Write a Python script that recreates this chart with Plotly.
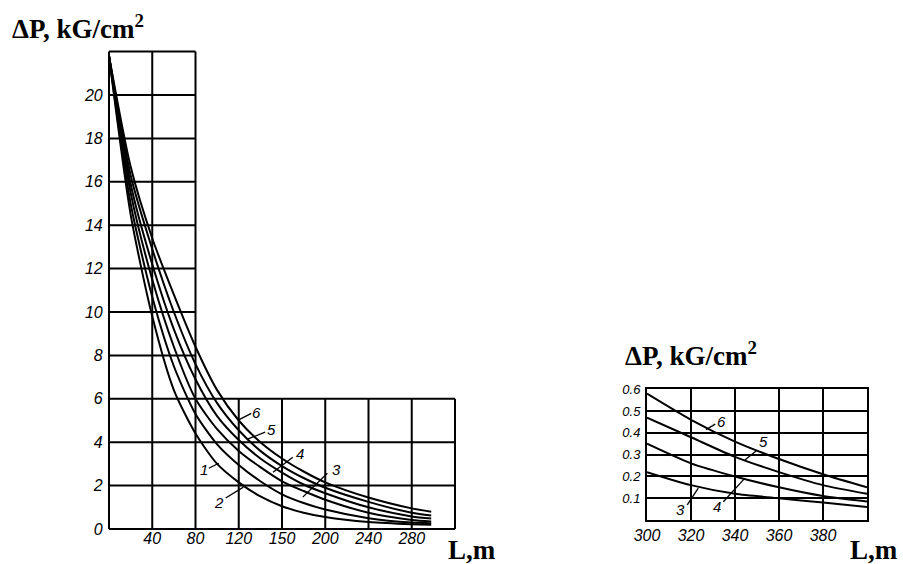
import plotly.graph_objects as go

# ---------------- data ----------------
L_main = [0, 20, 40, 60, 80, 100, 120, 140, 160, 180, 200, 240, 280, 298]
dp_curve1 = [21.8, 14.5, 9.8, 6.4, 4.4, 3.0, 2.15, 1.5, 1.05, 0.75, 0.55, 0.32, 0.22, 0.20]
dp_curve2 = [21.8, 15.0, 10.7, 7.5, 5.3, 3.9, 2.95, 2.2, 1.6, 1.2, 0.9, 0.5, 0.30, 0.27]
dp_curve3 = [21.8, 15.5, 11.5, 8.4, 6.0, 4.6, 3.6, 2.85, 2.2, 1.75, 1.35, 0.75, 0.42, 0.35]
dp_curve4 = [21.8, 15.9, 12.2, 9.2, 6.9, 5.2, 4.1, 3.25, 2.6, 2.05, 1.65, 1.0, 0.58, 0.48]
dp_curve5 = [21.8, 16.3, 12.9, 10.0, 7.6, 5.8, 4.55, 3.6, 2.9, 2.35, 1.9, 1.25, 0.75, 0.62]
dp_curve6 = [21.8, 16.7, 13.4, 10.8, 8.4, 6.4, 5.0, 4.0, 3.25, 2.65, 2.15, 1.45, 0.95, 0.80]
main_curves = [dp_curve1, dp_curve2, dp_curve3, dp_curve4, dp_curve5, dp_curve6]

L_inset = [300, 320, 340, 360, 380, 400]
ins_curve3 = [0.22, 0.16, 0.12, 0.10, 0.08, 0.06]
ins_curve4 = [0.35, 0.26, 0.20, 0.15, 0.11, 0.085]
ins_curve5 = [0.47, 0.38, 0.29, 0.22, 0.16, 0.12]
ins_curve6 = [0.58, 0.46, 0.36, 0.28, 0.21, 0.15]
inset_curves = [ins_curve3, ins_curve4, ins_curve5, ins_curve6]

# tick labels
main_x_tickvals = [40, 80, 120, 160, 200, 240, 280]
main_x_ticktext = ["40", "80", "120", "150", "200", "240", "280"]
main_y_tickvals = [0, 2, 4, 6, 8, 10, 12, 14, 16, 18, 20]
inset_x_tickvals = [300, 320, 340, 360, 380]
inset_y_tickvals = [0.1, 0.2, 0.3, 0.4, 0.5, 0.6]

# grid layout of the main chart (upper part only two columns wide)
grid_x_full = [0, 40, 80]
grid_x_low = [120, 160, 200, 240, 280, 320]
grid_y_low = [0, 2, 4, 6]
grid_y_high = [8, 10, 12, 14, 16, 18, 20, 22]
grid_x_max = 320
grid_x_narrow = 80
grid_y_max = 22
grid_y_low_max = 6

# curve labels in main chart
main_lab_text = ["1", "2", "3", "4", "5", "6"]
main_lab_x = [87.7, 101.5, 210.2, 176.4, 149.9, 136.2]
main_lab_y = [2.76, 1.24, 2.76, 3.49, 4.6, 5.39]
main_lead_x0 = [92.3, 107.9, 179.2, 151.7, 128.0, 120.4]
main_lead_y0 = [2.8, 1.43, 1.47, 2.62, 4.14, 5.04]
main_lead_x1 = [101.5, 124.3, 202.0, 170.0, 144.4, 131.6]
main_lead_y1 = [3.03, 1.93, 2.57, 3.31, 4.46, 5.33]

ins_lab_text = ["3", "4", "5", "6"]
ins_lab_x = [315.0, 331.7, 352.9, 334.0]
ins_lab_y = [0.046, 0.061, 0.361, 0.453]
ins_lead_x0 = [318.3, 334.7, 344.5, 326.8]
ins_lead_y0 = [0.069, 0.084, 0.275, 0.415]
ins_lead_x1 = [323.3, 344.5, 350.0, 331.0]
ins_lead_y1 = [0.146, 0.192, 0.32, 0.44]

W, H = 903, 564
BLACK = "black"
TICKFONT = dict(family="Liberation Sans", size=16, color=BLACK, style="italic")
LABFONT = dict(family="Liberation Sans", size=15, color=BLACK, style="italic")

fig = go.Figure()

for c in main_curves:
    fig.add_trace(go.Scatter(x=L_main, y=c, mode="lines", xaxis="x", yaxis="y",
                             line=dict(color=BLACK, width=2, shape="spline", smoothing=0.7),
                             showlegend=False, hoverinfo="skip"))
for c in inset_curves:
    fig.add_trace(go.Scatter(x=L_inset, y=c, mode="lines", xaxis="x2", yaxis="y2",
                             line=dict(color=BLACK, width=2, shape="spline", smoothing=0.7),
                             showlegend=False, hoverinfo="skip"))

shapes = []
for gx in grid_x_full:
    shapes.append(dict(type="line", xref="x", yref="y", x0=gx, x1=gx, y0=0, y1=grid_y_max,
                       line=dict(color=BLACK, width=2)))
for gx in grid_x_low:
    shapes.append(dict(type="line", xref="x", yref="y", x0=gx, x1=gx, y0=0, y1=grid_y_low_max,
                       line=dict(color=BLACK, width=2)))
for gy in grid_y_low:
    shapes.append(dict(type="line", xref="x", yref="y", x0=0, x1=grid_x_max, y0=gy, y1=gy,
                       line=dict(color=BLACK, width=2)))
for gy in grid_y_high:
    shapes.append(dict(type="line", xref="x", yref="y", x0=0, x1=grid_x_narrow, y0=gy, y1=gy,
                       line=dict(color=BLACK, width=2)))
for i in range(len(main_lab_text)):
    shapes.append(dict(type="line", xref="x", yref="y",
                       x0=main_lead_x0[i], y0=main_lead_y0[i], x1=main_lead_x1[i], y1=main_lead_y1[i],
                       line=dict(color=BLACK, width=1.3)))
for i in range(len(ins_lab_text)):
    shapes.append(dict(type="line", xref="x2", yref="y2",
                       x0=ins_lead_x0[i], y0=ins_lead_y0[i], x1=ins_lead_x1[i], y1=ins_lead_y1[i],
                       line=dict(color=BLACK, width=1.3)))

annotations = []
for i, t in enumerate(main_lab_text):
    annotations.append(dict(xref="x", yref="y", x=main_lab_x[i], y=main_lab_y[i], text=t,
                            showarrow=False, font=LABFONT))
for i, t in enumerate(ins_lab_text):
    annotations.append(dict(xref="x2", yref="y2", x=ins_lab_x[i], y=ins_lab_y[i], text=t,
                            showarrow=False, font=LABFONT))

TITLEFONT = dict(family="Liberation Serif", size=27, color=BLACK, weight="bold")
annotations += [
    dict(xref="paper", yref="paper", x=10 / W, y=1 - 27 / H, xanchor="left", yanchor="middle",
         text="ΔP, kG/cm<sup>2</sup>", showarrow=False, font=TITLEFONT),
    dict(xref="paper", yref="paper", x=623 / W, y=1 - 354 / H, xanchor="left", yanchor="middle",
         text="ΔP, kG/cm<sup>2</sup>", showarrow=False, font=TITLEFONT),
    dict(xref="paper", yref="paper", x=446 / W, y=1 - 550 / H, xanchor="left", yanchor="middle",
         text="L,m", showarrow=False, font=TITLEFONT),
    dict(xref="paper", yref="paper", x=848 / W, y=1 - 550 / H, xanchor="left", yanchor="middle",
         text="L,m", showarrow=False, font=TITLEFONT),
]

# main axes: L=0 -> px 109, L=320 -> px 455 ; dP=0 -> py 529, dP=22 -> py 51.6
sx = (455 - 109) / 320.0
sy = (529 - 51.6) / 22.0
xr = [-3, 323]
yr = [-0.2, 22.2]
x_dom = [(109 + xr[0] * sx) / W, (109 + xr[1] * sx) / W]
y_dom = [(H - (529 - yr[0] * sy)) / H, (H - (529 - yr[1] * sy)) / H]

fig.update_layout(
    width=W, height=H, margin=dict(l=0, r=0, t=0, b=0, autoexpand=False),
    paper_bgcolor="white", plot_bgcolor="rgba(0,0,0,0)",
    shapes=shapes, annotations=annotations, showlegend=False,
    xaxis=dict(domain=x_dom, range=xr, showgrid=False, zeroline=False, showline=False,
               automargin=False, anchor="free", position=y_dom[0] + 6 / H,
               tickmode="array", tickvals=main_x_tickvals, ticktext=main_x_ticktext,
               ticks="", tickfont=TICKFONT, ticklabelstandoff=0, fixedrange=True),
    yaxis=dict(domain=y_dom, range=yr, showgrid=False, zeroline=False, showline=False,
               automargin=False,
               tickmode="array", tickvals=main_y_tickvals, ticks="", tickfont=TICKFONT,
               ticklabelstandoff=2, anchor="x", fixedrange=True),
    xaxis2=dict(domain=[647 / W, 867 / W], range=[300, 400], anchor="y2",
                automargin=False,
                showgrid=True, gridcolor=BLACK, gridwidth=2, zeroline=False,
                showline=True, mirror=True, linecolor=BLACK, linewidth=2,
                tickmode="array", tickvals=inset_x_tickvals, ticks="",
                tickfont=TICKFONT, ticklabelstandoff=0, fixedrange=True),
    yaxis2=dict(domain=[(H - 520) / H, (H - 389.3) / H], range=[0, 0.6], anchor="x2",
                automargin=False,
                showgrid=True, gridcolor=BLACK, gridwidth=2, zeroline=False,
                showline=True, mirror=True, linecolor=BLACK, linewidth=2,
                tickmode="array", tickvals=inset_y_tickvals, ticks="",
                tickfont=dict(family="Liberation Sans", size=13, color=BLACK, style="italic"),
                ticklabelstandoff=2, fixedrange=True),
)

fig.write_html("out.html")
